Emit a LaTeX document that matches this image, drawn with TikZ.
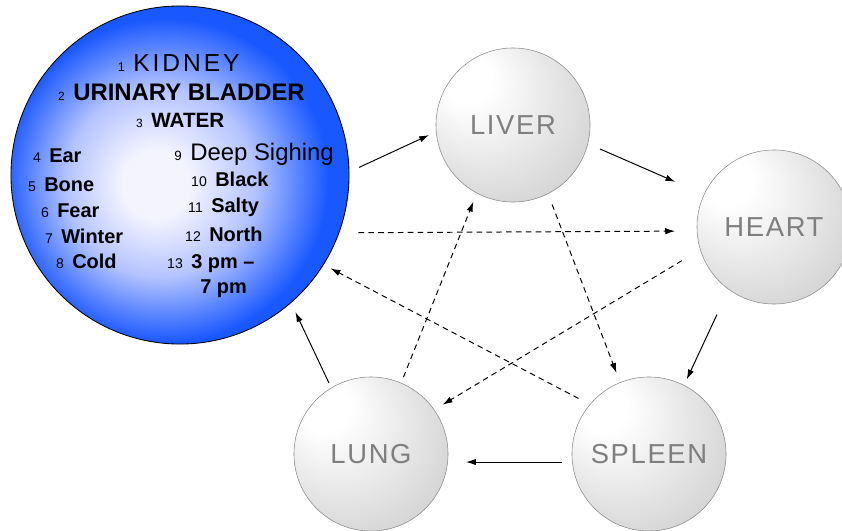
\documentclass[tikz,border=0pt]{standalone}
\usepackage{fontspec}
\setmainfont{Liberation Sans}
\usetikzlibrary{arrows.meta}
\definecolor{kidblue}{HTML}{1A58FF}
\definecolor{kidmid}{HTML}{B4C3FF}
\definecolor{kidcore}{HTML}{F4F4FF}
\definecolor{organgray}{HTML}{7F7F7F}
\pgfdeclareradialshading{kidneyshade}{\pgfpoint{-4bp}{-1.5bp}}{color(0bp)=(kidcore); color(5bp)=(kidcore); color(14bp)=(kidmid); color(24bp)=(kidblue); color(50bp)=(kidblue)}
\pgfdeclareradialshading{organshade}{\pgfpoint{-18bp}{18bp}}{color(0bp)=(white); color(8bp)=(white); color(50bp)=(black!27)}
\newcommand{\itemno}[2][10pt]{\llap{\fontsize{#1}{#1}\mdseries\selectfont #2\hspace{6pt}}}

\begin{document}
\begin{tikzpicture}[x=0.025cm, y=-0.025cm,
    organ/.style={circle, draw=black!45, shade, shading=organshade, minimum size=3.85cm,
                  inner sep=0pt, outer sep=0pt, text=organgray,
                  font=\fontsize{19.5}{20}\selectfont\addfontfeature{LetterSpace=6}},
    entry/.style={anchor=base west, inner sep=0pt, font=\fontsize{14.2}{16}\selectfont\bfseries},
    generate/.style={-{Latex[length=7pt, width=4.5pt]}, line width=0.7pt},
    restrain/.style={generate, dash pattern=on 4pt off 3pt},
]
    \useasboundingbox (0,0) rectangle (842,531);

    % the five organs
    \node[circle, draw=black, line width=0.6pt, shade, shading=kidneyshade, minimum size=8.45cm,
          inner sep=0pt, outer sep=0pt] (kidney) at (180,175) {};
    \node[organ] (liver)  at (513,125) {LIVER};
    \node[organ] (heart)  at (774,227) {HEART};
    \node[organ] (spleen) at (649,454) {SPLEEN};
    \node[organ] (lung)   at (371,454) {LUNG};

    % kidney correspondences
    \node[entry, font=\fontsize{17.5}{18}\selectfont\addfontfeature{LetterSpace=12}] (kname) at (133,72) {\itemno[9pt]{1}KIDNEY};
    \node[entry, font=\fontsize{17}{18}\selectfont\bfseries] (bladder) at (73,101) {\itemno[8.5pt]{2}URINARY BLADDER};
    \node[entry, font=\fontsize{14.7}{16}\selectfont\bfseries] (water) at (151,128) {\itemno[8.5pt]{3}WATER};

    \node[entry] (ear)    at (49,163) {\itemno{4}Ear};
    \node[entry] (bone)   at (44,192) {\itemno{5}Bone};
    \node[entry] (fear)   at (57,218) {\itemno{6}Fear};
    \node[entry] (winter) at (61,244) {\itemno{7}Winter};
    \node[entry] (cold)   at (72,269) {\itemno{8}Cold};

    \node[entry, font=\fontsize{17}{18}\selectfont] (sighing) at (190,161) {\itemno[9.5pt]{9}Deep Sighing};
    \node[entry] (black)  at (215,187) {\itemno{10}Black};
    \node[entry] (salty)  at (211,213) {\itemno{11}Salty};
    \node[entry] (north)  at (209,241) {\itemno{12}North};
    \node[entry] (hours)  at (191,268) {\itemno{13}3 pm --};
    \node[entry] (hours2) at (200,293) {7 pm};

    % generating cycle
    \draw[generate, shorten <=0.275cm, shorten >=0.2cm] (kidney.1.2) -- (liver.185.7);
    \draw[generate, shorten <=0.335cm, shorten >=0.79cm] (liver.346) -- (heart.155.3);
    \draw[generate, shorten <=0.7cm, shorten >=0.165cm] (heart.234.5) -- (spleen.63.7);
    \draw[generate, shorten <=0.26cm, shorten >=0.46cm] (spleen.186) -- (lung.354);
    \draw[generate, shorten <=0.14cm, shorten >=0.265cm] (lung.121) -- (kidney.311.5);

    % restraining cycle
    \draw[restrain, shorten <=0.49cm, shorten >=0.55cm] (kidney.340.8) -- (heart.183);
    \draw[restrain, shorten <=0.29cm, shorten >=0.26cm] (liver.297.9) -- (spleen.112.4);
    \draw[restrain, shorten <=0.54cm, shorten >=0.25cm] (heart.197.4) -- (lung.35.7);
    \draw[restrain, shorten <=0.325cm, shorten >=0.205cm] (spleen.140.6) -- (kidney.328.4);
    \draw[restrain, shorten <=0.16cm, shorten >=0.235cm] (lung.67.4) -- (liver.242.5);
\end{tikzpicture}
\end{document}
